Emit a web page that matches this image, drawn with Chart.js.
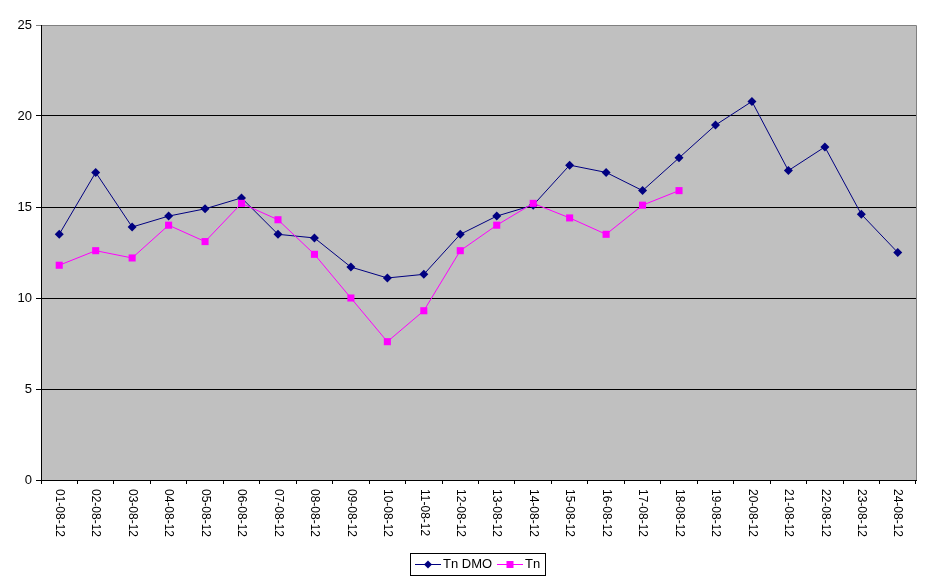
<!DOCTYPE html>
<html>
<head>
<meta charset="utf-8">
<script src="https://cdn.jsdelivr.net/npm/chart.js@4"></script>
<style>
  body { margin: 0; background: #fff; }
  canvas { display: block; }
</style>
</head>
<body>
<canvas id="chart" width="940" height="584"></canvas>
<script>
// data
const dates = ['01-08-12', '02-08-12', '03-08-12', '04-08-12', '05-08-12', '06-08-12',
  '07-08-12', '08-08-12', '09-08-12', '10-08-12', '11-08-12', '12-08-12',
  '13-08-12', '14-08-12', '15-08-12', '16-08-12', '17-08-12', '18-08-12',
  '19-08-12', '20-08-12', '21-08-12', '22-08-12', '23-08-12', '24-08-12'];
const tnDmo = [13.5, 16.9, 13.9, 14.5, 14.9, 15.5, 13.5, 13.3, 11.7, 11.1, 11.3, 13.5,
  14.5, 15.1, 17.3, 16.9, 15.9, 17.7, 19.5, 20.8, 17.0, 18.3, 14.6, 12.5];
const tn = [11.8, 12.6, 12.2, 14.0, 13.1, 15.2, 14.3, 12.4, 10.0, 7.6, 9.3, 12.6,
  14.0, 15.2, 14.4, 13.5, 15.1, 15.9];
const yTicks = [0, 5, 10, 15, 20, 25];

const FONT = "'Liberation Sans', Arial, sans-serif";

// grey plot background + grey top/right border
const plotBg = {
  id: 'plotBg',
  beforeDraw(chart) {
    const { ctx, chartArea: a } = chart;
    ctx.save();
    ctx.fillStyle = '#c0c0c0';
    ctx.fillRect(a.left, a.top, a.right - a.left, a.bottom - a.top);
    ctx.strokeStyle = '#808080';
    ctx.lineWidth = 1;
    ctx.beginPath();
    ctx.moveTo(a.left, a.top + 0.5);
    ctx.lineTo(a.right + 0.5, a.top + 0.5);
    ctx.lineTo(a.right + 0.5, a.bottom);
    ctx.stroke();
    ctx.restore();
  }
};

// x labels read top to bottom, and a boxed legend like the old Excel one
const extras = {
  id: 'extras',
  afterDraw(chart) {
    const { ctx } = chart;
    const x = chart.scales.x;
    ctx.save();
    ctx.fillStyle = '#000';
    ctx.font = '12px ' + FONT;
    ctx.textAlign = 'left';
    ctx.textBaseline = 'middle';
    dates.forEach((d, i) => {
      ctx.save();
      ctx.translate(x.getPixelForValue(i), chart.chartArea.bottom + 9);
      ctx.rotate(Math.PI / 2);
      ctx.fillText(d, 0, 0);
      ctx.restore();
    });

    // legend
    ctx.strokeStyle = '#000';
    ctx.lineWidth = 1;
    ctx.strokeRect(410.5, 553.5, 135, 22);
    const ly = 564.5;
    ctx.font = '13px ' + FONT;
    chart.data.datasets.forEach((ds, i) => {
      const x0 = i === 0 ? 415 : 497;
      ctx.strokeStyle = ds.borderColor;
      ctx.beginPath();
      ctx.moveTo(x0, ly);
      ctx.lineTo(x0 + 26, ly);
      ctx.stroke();
      ctx.fillStyle = ds.backgroundColor;
      const cx = x0 + 13;
      if (ds.pointStyle === 'rectRot') {
        ctx.beginPath();
        ctx.moveTo(cx, ly - 4);
        ctx.lineTo(cx + 4, ly);
        ctx.lineTo(cx, ly + 4);
        ctx.lineTo(cx - 4, ly);
        ctx.closePath();
        ctx.fill();
      } else {
        ctx.fillRect(cx - 3.5, ly - 3.5, 7, 7);
      }
      ctx.fillStyle = '#000';
      ctx.fillText(ds.label, x0 + 28, ly);
    });
    ctx.restore();
  }
};

new Chart(document.getElementById('chart'), {
  type: 'line',
  data: {
    labels: dates,
    datasets: [{
      label: 'Tn DMO',
      data: tnDmo,
      order: 1,
      borderColor: '#000080',
      backgroundColor: '#000080',
      borderWidth: 1,
      pointStyle: 'rectRot',
      pointRadius: 4.5,
      pointBorderWidth: 0,
      tension: 0
    }, {
      label: 'Tn',
      data: tn,
      order: 0,
      borderColor: '#ff00ff',
      backgroundColor: '#ff00ff',
      borderWidth: 1,
      pointStyle: 'rect',
      pointRadius: 5,
      pointBorderWidth: 0,
      tension: 0
    }]
  },
  options: {
    responsive: false,
    animation: false,
    layout: { padding: { top: 25, right: 24, left: 0, bottom: 0 } },
    plugins: {
      legend: { display: false },
      tooltip: { enabled: false }
    },
    scales: {
      x: {
        offset: true,
        afterFit: s => { s.height = 104; },
        grid: {
          offset: true,
          drawOnChartArea: false,
          drawTicks: true,
          tickLength: 4,
          color: '#000'
        },
        border: { color: '#000', width: 1 },
        ticks: { display: false }
      },
      y: {
        min: 0,
        max: 25,
        afterFit: s => { s.width = 41; },
        afterBuildTicks: s => { s.ticks = yTicks.map(v => ({ value: v })); },
        grid: {
          color: c => (c.tick && c.tick.value === 25 ? '#808080' : '#000'),
          tickLength: 5
        },
        border: { color: '#000', width: 1 },
        ticks: {
          color: '#000',
          padding: 4,
          font: { family: FONT, size: 13 }
        }
      }
    }
  },
  plugins: [plotBg, extras]
});
</script>
</body>
</html>
